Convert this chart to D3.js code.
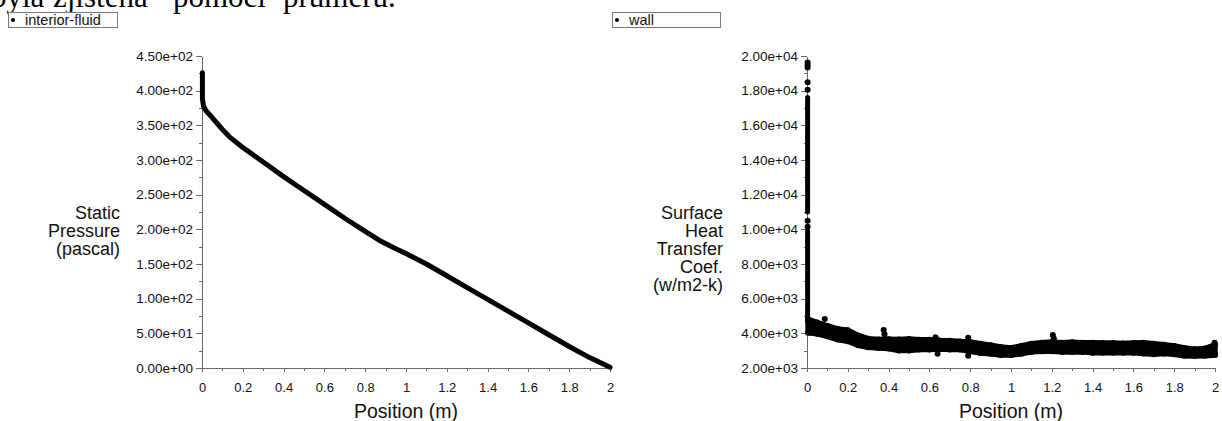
<!DOCTYPE html>
<html>
<head>
<meta charset="utf-8">
<script src="https://cdn.jsdelivr.net/npm/d3@7"></script>
<style>
  body { margin: 0; background: #fff; }
  svg { display: block; }
  text { font-family: "Liberation Sans", Arial, sans-serif; fill: #111; }
  .axis path, .axis line { stroke: #6a6a6a; stroke-width: 1; shape-rendering: crispEdges; }
  .axis text { font-size: 13px; fill: #111; }
</style>
</head>
<body>
<div id="chart"></div>
<script>
// left plot: static pressure along the pipe (interior-fluid)
const pressX = [0.002, 0.002, 0.008, 0.02, 0.05, 0.1, 0.136, 0.2, 0.3, 0.4, 0.5, 0.6, 0.7, 0.8, 0.87, 0.95, 1.0, 1.1, 1.2, 1.3, 1.4, 1.5, 1.6, 1.7, 1.8, 1.9, 2.0];
const pressY = [426, 388, 377, 371, 361, 344, 333, 318, 297, 276, 256, 236, 216, 197, 184, 172, 165, 150, 133, 116, 99, 82, 65, 48, 31, 15, 1];

// right plot: surface heat transfer coef. (wall), scatter band read as envelope
const wallX = [0.005, 0.05, 0.1, 0.15, 0.2, 0.25, 0.3, 0.35, 0.4, 0.45, 0.5, 0.55, 0.6, 0.65, 0.7, 0.75, 0.8, 0.85, 0.9, 0.95, 1.0, 1.05, 1.1, 1.15, 1.2, 1.25, 1.3, 1.35, 1.4, 1.45, 1.5, 1.55, 1.6, 1.65, 1.7, 1.75, 1.8, 1.85, 1.9, 1.95, 2.0];
const wallUpper = [4810, 4620, 4430, 4250, 4180, 3880, 3690, 3650, 3660, 3640, 3670, 3630, 3630, 3590, 3570, 3530, 3500, 3400, 3310, 3210, 3150, 3270, 3400, 3460, 3500, 3460, 3480, 3460, 3460, 3440, 3440, 3420, 3440, 3460, 3400, 3340, 3270, 3150, 3080, 3120, 3340];
const wallLower = [4030, 3970, 3830, 3640, 3540, 3310, 3200, 3160, 3120, 3010, 3010, 3070, 3070, 3100, 3070, 3070, 2970, 2870, 2820, 2750, 2750, 2820, 2930, 2970, 2970, 2930, 2930, 2930, 2880, 2880, 2880, 2880, 2880, 2830, 2790, 2830, 2790, 2700, 2690, 2700, 2750];
const outlierX = [0.087, 0.376, 0.38, 0.63, 0.64, 0.79, 0.79, 1.205, 1.21, 1.998];
const outlierY = [4820, 4190, 3950, 3770, 2820, 3750, 2710, 3900, 3700, 3450];
// near-wall spike at the inlet
const spikeX = 0.003;
const spikeRunStart = [17600, 9900];
const spikeRunEnd = [11000, 4700];
const spikeDots = [19620, 19480, 19330, 18480, 18050, 10500, 10150];

const xTicks = [0, 0.2, 0.4, 0.6, 0.8, 1, 1.2, 1.4, 1.6, 1.8, 2];
const xMinor = [0.1, 0.3, 0.5, 0.7, 0.9, 1.1, 1.3, 1.5, 1.7, 1.9];
const pressTicks = [0, 50, 100, 150, 200, 250, 300, 350, 400, 450];
const pressMinor = [25, 75, 125, 175, 225, 275, 325, 375, 425];
const wallTicks = [2000, 4000, 6000, 8000, 10000, 12000, 14000, 16000, 18000, 20000];
const wallMinor = [3000, 5000, 7000, 9000, 11000, 13000, 15000, 17000, 19000];

const W = 1222, H = 421;
const svg = d3.select("#chart").append("svg").attr("width", W).attr("height", H);

// cut-off line of the document text above the figure
const topWords = [["byla", -9], ["zjištěna", 53], ["pomocí", 173], ["průměru.", 283]];
svg.selectAll("text.doc").data(topWords).enter().append("text")
    .attr("class", "doc")
    .attr("x", (d) => d[1]).attr("y", 6.5)
    .style("font-family", "'Liberation Serif', 'Times New Roman', serif")
    .style("font-size", "31px").style("fill", "#000")
    .text((d) => d[0]);

function sciFmt(v) {
    const [m, e] = v.toExponential(2).split("e");
    const n = Math.abs(+e);
    return m + "e" + (+e < 0 ? "-" : "+") + (n < 10 ? "0" + n : n);
}
const xFmt = (d) => String(+d.toFixed(1));

function legend(x0, x1, label) {
    svg.append("rect").attr("x", x0 + 0.5).attr("y", 12.5).attr("width", x1 - x0).attr("height", 15)
        .attr("fill", "#fff").attr("stroke", "#7a7a7a");
    svg.append("circle").attr("cx", x0 + 5).attr("cy", 20).attr("r", 2).attr("fill", "#000");
    svg.append("text").attr("x", x0 + 17).attr("y", 25).style("font-size", "14.5px").text(label);
}
legend(8, 117, "interior-fluid");
legend(612, 720, "wall");

function panel(opt) {
    const x = d3.scaleLinear().domain([0, 2]).range([opt.left, opt.left + 408]);
    const y = d3.scaleLinear().domain(opt.yDomain).range([368, 56]);
    const g = svg.append("g");

    g.append("g").attr("class", "axis").attr("transform", "translate(0,368)")
        .call(d3.axisBottom(x).tickValues(xMinor).tickSize(2.5).tickSizeOuter(0).tickFormat(""));
    g.append("g").attr("class", "axis").attr("transform", "translate(0,368)")
        .call(d3.axisBottom(x).tickValues(xTicks).tickSize(4).tickSizeOuter(0).tickPadding(11).tickFormat(xFmt));
    g.append("g").attr("class", "axis").attr("transform", `translate(${opt.left},0)`)
        .call(d3.axisLeft(y).tickValues(opt.minor).tickSize(3).tickSizeOuter(0).tickFormat(""));
    g.append("g").attr("class", "axis").attr("transform", `translate(${opt.left},0)`)
        .call(d3.axisLeft(y).tickValues(opt.ticks).tickSize(6).tickSizeOuter(0).tickPadding(3).tickFormat(sciFmt))
        .selectAll("text").style("font-size", "13.5px");

    g.append("text").attr("x", opt.left + 204).attr("y", 418).attr("text-anchor", "middle")
        .style("font-size", "19.5px").text("Position (m)");

    g.append("g").selectAll("text").data(opt.title).enter().append("text")
        .attr("x", opt.titleX).attr("y", (d, i) => 219.3 + i * opt.titleStep)
        .attr("text-anchor", "end").style("font-size", "18px").text((d) => d);

    return { g, x, y };
}

// ---- left: static pressure
const p1 = panel({
    left: 202, yDomain: [0, 450], ticks: pressTicks, minor: pressMinor,
    title: ["Static", "Pressure", "(pascal)"], titleX: 120, titleStep: 18
});
const pressLine = d3.line().x((d, i) => p1.x(pressX[i])).y((d) => p1.y(d));
p1.g.append("path").datum(pressY).attr("d", pressLine)
    .attr("fill", "none").attr("stroke", "#000").attr("stroke-width", 5)
    .attr("stroke-linecap", "round").attr("stroke-linejoin", "round");

// ---- right: heat transfer coefficient
const p2 = panel({
    left: 807, yDomain: [2000, 20000], ticks: wallTicks, minor: wallMinor,
    title: ["Surface", "Heat", "Transfer", "Coef.", "(w/m2-k)"], titleX: 723, titleStep: 17.8
});
const band = d3.area()
    .x((d, i) => p2.x(wallX[i]))
    .y0((d, i) => p2.y(wallLower[i]))
    .y1((d) => p2.y(d));
p2.g.append("path").datum(wallUpper).attr("d", band)
    .attr("fill", "#000").attr("stroke", "#000").attr("stroke-width", 5.5).attr("stroke-linejoin", "round");

const dotR = 3;
const edgeDots = wallX.map((v, i) => [v, wallUpper[i]]).concat(wallX.map((v, i) => [v, wallLower[i]]));
p2.g.append("g").selectAll("circle").data(edgeDots).enter().append("circle")
    .attr("cx", (d) => p2.x(d[0])).attr("cy", (d) => p2.y(d[1])).attr("r", dotR).attr("fill", "#000");
p2.g.append("g").selectAll("circle").data(outlierY).enter().append("circle")
    .attr("cx", (d, i) => p2.x(outlierX[i])).attr("cy", (d) => p2.y(d)).attr("r", dotR).attr("fill", "#000");

p2.g.append("g").selectAll("line").data(spikeRunStart).enter().append("line")
    .attr("x1", p2.x(spikeX)).attr("x2", p2.x(spikeX))
    .attr("y1", (d) => p2.y(d)).attr("y2", (d, i) => p2.y(spikeRunEnd[i]))
    .attr("stroke", "#000").attr("stroke-width", 5).attr("stroke-linecap", "round");
p2.g.append("g").selectAll("circle").data(spikeDots).enter().append("circle")
    .attr("cx", p2.x(spikeX)).attr("cy", (d) => p2.y(d)).attr("r", 3).attr("fill", "#000");
</script>
</body>
</html>
